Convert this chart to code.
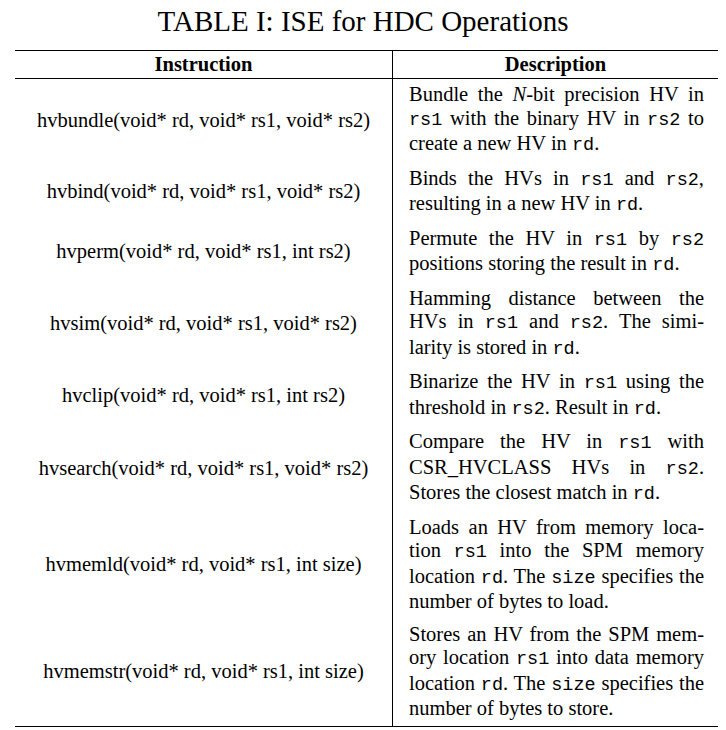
<!DOCTYPE html>
<html>
<head>
<meta charset="utf-8">
<script src="https://cdn.jsdelivr.net/npm/chart.js@4"></script>
<style>
  body { margin: 0; background: #fff; font-family: "Liberation Serif", serif; color: #000; }
  h1 { font-weight: normal; font-size: 29px; text-align: center; margin: 2px 0 0 0; height: 48px; line-height: 38px; }
  table { border-collapse: collapse; margin-left: 15px; width: 703px; font-size: 20.5px; }
  thead tr { border-top: 1.5px solid #000; border-bottom: 1px solid #000; }
  tbody { border-bottom: 1.5px solid #000; }
  th { font-weight: bold; padding: 0; height: 27px; }
  td { padding: 4px 0 5px 0; line-height: 23.5px; vertical-align: middle; }
  td.ins { text-align: center; width: 377px; border-right: 1px solid #000; }
  th.ins { border-right: 1px solid #000; }
  td.desc { text-align: justify; text-align-last: left; padding-left: 16px; padding-right: 14px; }
  code { font-family: "Liberation Mono", monospace; font-size: 18.5px; }
</style>
</head>
<body>
<h1>TABLE I: ISE for HDC Operations</h1>
<table id="t"></table>
<script>
const title = 'TABLE I: ISE for HDC Operations';
const headers = ['Instruction', 'Description'];
const instructions = [
  'hvbundle(void* rd, void* rs1, void* rs2)',
  'hvbind(void* rd, void* rs1, void* rs2)',
  'hvperm(void* rd, void* rs1, int rs2)',
  'hvsim(void* rd, void* rs1, void* rs2)',
  'hvclip(void* rd, void* rs1, int rs2)',
  'hvsearch(void* rd, void* rs1, void* rs2)',
  'hvmemld(void* rd, void* rs1, int size)',
  'hvmemstr(void* rd, void* rs1, int size)'
];
// `x` marks monospace text, _x_ italic
const descriptions = [
  'Bundle the _N_-bit precision HV in `rs1` with the binary HV in `rs2` to create a new HV in `rd`.',
  'Binds the HVs in `rs1` and `rs2`, resulting in a new HV in `rd`.',
  'Permute the HV in `rs1` by `rs2` positions storing the result in `rd`.',
  'Hamming distance between the HVs in `rs1` and `rs2`. The simi&shy;larity is stored in `rd`.',
  'Binarize the HV in `rs1` using the threshold in `rs2`. Result in `rd`.',
  'Compare the HV in `rs1` with CSR_HVCLASS HVs in `rs2`. Stores the closest match in `rd`.',
  'Loads an HV from memory loca&shy;tion `rs1` into the SPM memory location `rd`. The `size` specifies the number of bytes to load.',
  'Stores an HV from the SPM mem&shy;ory location `rs1` into data memory location `rd`. The `size` specifies the number of bytes to store.'
];

function fmt(s) {
  return s.replace(/`([^`]+)`/g, '<code>$1</code>').replace(/_(\w)_/g, '<i>$1</i>');
}

let html = `<thead><tr><th class="ins">${headers[0]}</th><th>${headers[1]}</th></tr></thead><tbody>`;
instructions.forEach((ins, i) => {
  html += `<tr><td class="ins">${ins}</td><td class="desc">${fmt(descriptions[i])}</td></tr>`;
});
html += '</tbody>';
document.getElementById('t').innerHTML = html;
</script>
</body>
</html>
